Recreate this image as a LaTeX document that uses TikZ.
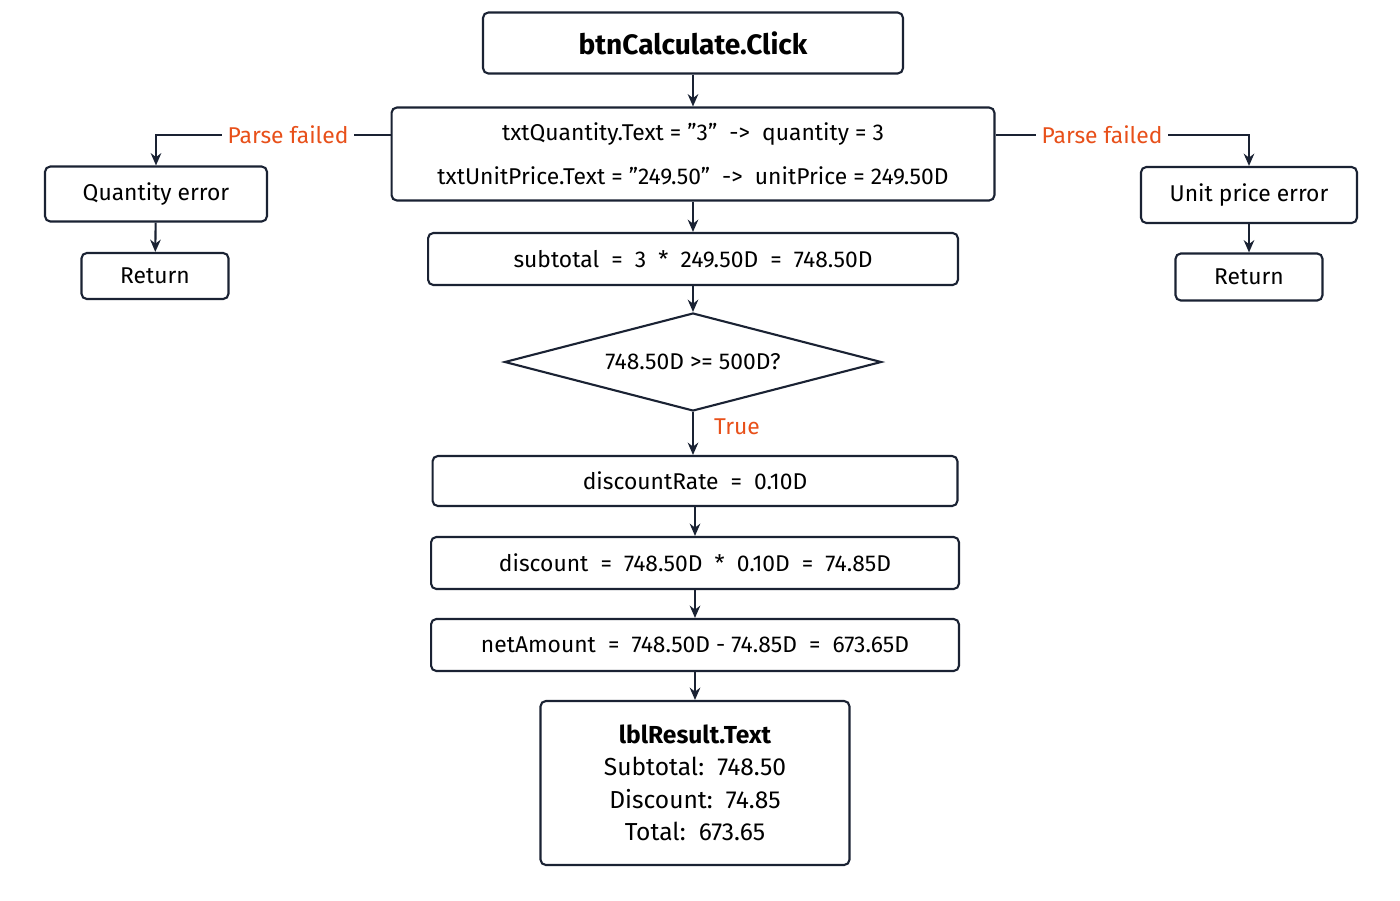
\documentclass[tikz,border=0pt]{standalone}
\usepackage{fontspec}
\setmainfont{Fira Sans}
\usetikzlibrary{shapes.geometric,arrows.meta}
\definecolor{flink}{RGB}{26,34,51}
\definecolor{florange}{RGB}{232,80,26}
\newcommand{\dq}{\char"22\relax}

\tikzset{
  box/.style={draw=flink, line width=1.2pt, rounded corners=3pt, align=center,
    inner sep=0pt, font=\fontsize{13}{25}\selectfont},
  lbl/.style={text=florange, fill=white, inner sep=3pt, font=\fontsize{13}{16}\selectfont},
  arrow/.style={draw=flink, line width=1.2pt, -{Stealth[length=7pt,width=6pt]}},
}

\begin{document}
\begin{tikzpicture}[x=0.02cm, y=-0.02cm]
\useasboundingbox (0,0) rectangle (1400,900);

% Main column
\node[box, minimum width=8.4cm, minimum height=1.22cm, font=\fontsize{16}{19}\selectfont\bfseries] (click) at (693,43) {btnCalculate.Click};
\node[box, minimum width=12.06cm, minimum height=1.86cm] (parse) at (693,154)
  {txtQuantity.Text = \dq3\dq\ \ ->\ \ quantity = 3\\ txtUnitPrice.Text = \dq249.50\dq\ \ ->\ \ unitPrice = 249.50D};
\node[box, minimum width=10.6cm, minimum height=1.04cm] (subtotal) at (693,259) {subtotal\ \ =\ \ 3\ \ *\ \ 249.50D\ \ =\ \ 748.50D};
\node[diamond, aspect=3.85, draw=flink, line width=1.2pt, inner sep=0pt, minimum width=7.54cm, minimum height=1.96cm, font=\fontsize{13}{16}\selectfont] (check) at (693,362) {748.50D >= 500D?};
\node[box, minimum width=10.5cm, minimum height=1cm] (rate) at (695,481) {discountRate\ \ =\ \ 0.10D};
\node[box, minimum width=10.56cm, minimum height=1.04cm] (disc) at (695,563) {discount\ \ =\ \ 748.50D\ \ *\ \ 0.10D\ \ =\ \ 74.85D};
\node[box, minimum width=10.56cm, minimum height=1.04cm] (net) at (695,645) {netAmount\ \ =\ \ 748.50D - 74.85D\ \ =\ \ 673.65D};
\node[box, minimum width=6.18cm, minimum height=3.28cm, font=\fontsize{14}{18.5}\selectfont] (result) at (695,783)
  {{\bfseries lblResult.Text}\\ Subtotal:\ \ 748.50\\ Discount:\ \ 74.85\\ Total:\ \ 673.65};

% Error branches
\node[box, minimum width=4.44cm, minimum height=1.1cm] (qerr) at (156,194) {Quantity error};
\node[box, minimum width=2.94cm, minimum height=0.92cm] (qret) at (155,276) {Return};
\node[box, minimum width=4.32cm, minimum height=1.12cm] (perr) at (1249,195) {Unit price error};
\node[box, minimum width=2.94cm, minimum height=0.94cm] (pret) at (1249,277) {Return};

\node[lbl] (qfail) at (288,135) {Parse failed};
\node[lbl] (pfail) at (1102,135) {Parse failed};
\node[lbl, fill=none] (true) at (737,427) {True};

% Connectors
\draw[arrow] (click) -- (parse);
\draw[arrow] (parse) -- (subtotal);
\draw[arrow] (subtotal) -- (check);
\draw[arrow] (check.south) -- (check.south |- rate.north);
\draw[arrow] (rate) -- (disc);
\draw[arrow] (disc) -- (net);
\draw[arrow] (net) -- (result);
\draw[draw=flink, line width=1.2pt] (parse.west |- qfail) -- (qfail.east);
\draw[arrow] (qfail.west) -| (qerr.north);
\draw[draw=flink, line width=1.2pt] (parse.east |- pfail) -- (pfail.west);
\draw[arrow] (pfail.east) -| (perr.north);
\draw[arrow] (qerr) -- (qret);
\draw[arrow] (perr) -- (pret);

\end{tikzpicture}
\end{document}
